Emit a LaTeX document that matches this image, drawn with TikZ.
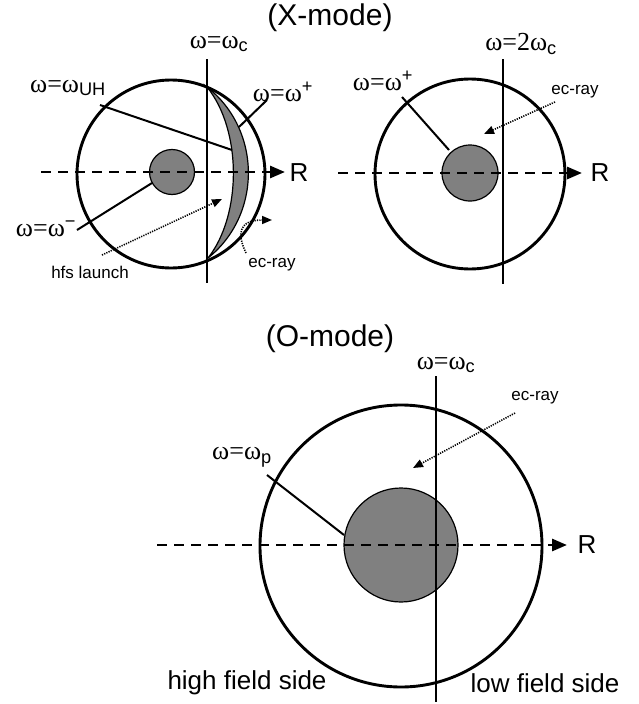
\documentclass[tikz,border=0pt]{standalone}
\usepackage{fontspec}
\setmainfont{Liberation Sans}
\newfontfamily\grkfont{Liberation Serif}
\usepackage{tikz}
\usetikzlibrary{arrows.meta,positioning}
\newcommand{\om}{{\grkfont ω}}
\newcommand{\omeq}{{\grkfont ω=ω}}
\definecolor{plasmagray}{RGB}{128,128,128}

\begin{document}
\begin{tikzpicture}[x=1pt, y=-1pt,
    vessel/.style={circle, draw, line width=2.9pt, inner sep=0pt, minimum size=#1},
    core/.style={circle, draw, line width=1.2pt, fill=plasmagray, inner sep=0pt, minimum size=#1},
    resonance/.style={line width=2.9pt},
    axis/.style={line width=2.8pt, dash pattern=on 10pt off 7pt, -{Triangle[length=15pt,width=12pt]}},
    leader/.style={line width=2pt},
    ray/.style={line width=1.6pt, dash pattern=on 1.2pt off 1.2pt, -{Triangle[length=10pt,width=8pt]}},
    wlabel/.style={inner sep=0pt, font=\fontsize{26}{28}\selectfont},
    small/.style={inner sep=0pt, font=\fontsize{17}{19}\selectfont},
    title/.style={inner sep=0pt, font=\fontsize{30}{32}\selectfont},
    side/.style={inner sep=0pt, font=\fontsize{26}{28}\selectfont}]

\useasboundingbox (0,0) rectangle (638,704);

% X-mode, fundamental
\node[title] (xtitle) at (330,18) {(X-mode)};
\node[vessel=188pt] (xv1) at (171,174) {};
\node[core=45pt] (xc1) at (172,172) {};
% crescent between R-cutoff and UH layer
\draw[line width=1.2pt, fill=plasmagray] (207,87) .. controls (262,130) and (262,215) .. (208,258)
    .. controls (242,215) and (242,130) .. (207,87) -- cycle;
\coordinate (ax1a) at (41,172);
\coordinate (ax1b) at (285,172);
\draw[axis] (ax1a) -- (ax1b);
\node[side] (r1) at (299,173) {R};
\coordinate (res1a) at (207,59);
\coordinate (res1b) at (207,283);
\draw[resonance] (res1a) -- (res1b);
\node[wlabel] (wc1) at (219,44) {\omeq\textsubscript{c}};

\node[wlabel] (wuh) at (68,88) {\omeq\textsubscript{UH}};
\coordinate (uhA) at (100,105);
\coordinate (uhB) at (232,150);
\draw[leader] (uhA) -- (uhB);
\node[wlabel] (wp1) at (283,92) {\omeq\textsuperscript{+}};
\coordinate (p1A) at (239,127);
\coordinate (p1B) at (267,100);
\draw[leader] (p1A) -- (p1B);
\node[wlabel] (wm1) at (46,229) {\omeq\textsuperscript{−}};
\coordinate (m1A) at (77,230);
\coordinate (m1B) at (152,183);
\draw[leader] (m1A) -- (m1B);

\node[small] (hfs) at (90,272) {hfs launch};
\coordinate (hfsA) at (102,255);
\coordinate (hfsB) at (222,199);
\draw[ray] (hfsA) -- (hfsB);
\node[small] (ec1) at (272,265) {ec-ray};
\coordinate (ec1A) at (246,253);
\coordinate (ec1B) at (272,220);
\draw[ray] (ec1A) .. controls (236,232) and (240,220) .. (ec1B);

% X-mode, second harmonic
\node[vessel=190pt] (xv2) at (470,174) {};
\node[core=56pt] (xc2) at (470,173) {};
\coordinate (ax2a) at (338,173);
\coordinate (ax2b) at (582,173);
\draw[axis] (ax2a) -- (ax2b);
\node[side] (r2) at (600,173) {R};
\coordinate (res2a) at (503,59);
\coordinate (res2b) at (503,284);
\draw[resonance] (res2a) -- (res2b);
\node[wlabel] (w2c) at (521,44) {{\grkfont ω=2ω}\textsubscript{c}};
\node[wlabel] (wp2) at (383,81) {\omeq\textsuperscript{+}};
\coordinate (p2A) at (402,97);
\coordinate (p2B) at (449,150);
\draw[leader] (p2A) -- (p2B);
\node[small] (ec2) at (575,92) {ec-ray};
\coordinate (ec2A) at (555,102);
\coordinate (ec2B) at (484,134);
\draw[ray] (ec2A) -- (ec2B);

% O-mode
\node[title] (otitle) at (330,339) {(O-mode)};
\node[vessel=282pt] (ov) at (401,546) {};
\node[core=114pt] (oc) at (401,545) {};
\coordinate (ax3a) at (157,545);
\coordinate (ax3b) at (567,545);
\draw[axis] (ax3a) -- (ax3b);
\node[side] (r3) at (587,545) {R};
\coordinate (res3a) at (436,376);
\coordinate (res3b) at (436,702);
\draw[resonance] (res3a) -- (res3b);
\node[wlabel] (wc3) at (446,365) {\omeq\textsubscript{c}};
\node[small] (ec3) at (535,398) {ec-ray};
\coordinate (ec3A) at (515,413);
\coordinate (ec3B) at (413,468);
\draw[ray] (ec3A) -- (ec3B);
\node[wlabel] (wpl) at (242,457) {\omeq\textsubscript{p}};
\coordinate (plA) at (267,475);
\coordinate (plB) at (344,535);
\draw[leader] (plA) -- (plB);

\node[side] (hfside) at (247,683) {high field side};
\node[side] (lfside) at (545,683) {low field side};

\end{tikzpicture}
\end{document}
